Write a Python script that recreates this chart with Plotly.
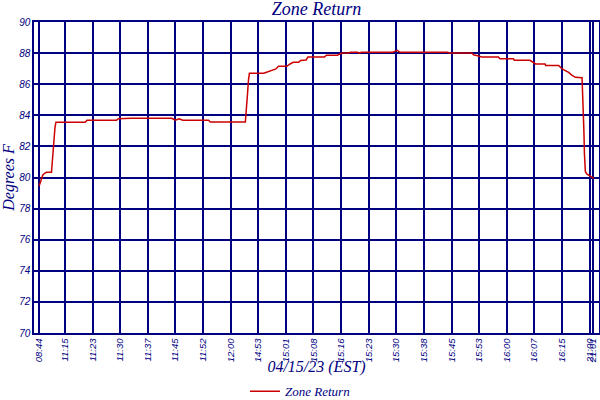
import plotly.graph_objects as go

# sample index (about one reading per minute) and zone return temperature
sample_idx = [
    0, 1, 2, 3, 4, 6.7, 7.3, 8.2, 8.6, 9.1,
    25, 26, 42, 43, 50, 72, 74, 76, 78, 92, 93,
    112, 112.8, 113.2, 113.7, 114.2, 122, 123.5, 126.5, 128.6, 130, 134.5,
    136.3, 138, 141, 142, 145, 146, 155, 156, 162, 163.4, 164.4,
    168, 169, 173, 174, 175, 192, 194.5, 196, 222, 223, 235,
    236.2, 237.7, 240.4, 249.4, 250.3, 257.6, 258.1, 266.6, 268.1, 269.7,
    274.8, 275.1, 282.2, 283.5, 285.3, 287.6, 289.5, 291.3, 294.9,
    295.2, 295.6, 295.9, 296.2, 296.7, 297.6, 299.4, 301.4,
]
zone_return = [
    79.45, 79.8, 80.16, 80.27, 80.33, 80.33, 81.34, 82.62, 83.23, 83.55,
    83.55, 83.68, 83.68, 83.78, 83.81, 83.81, 83.68, 83.78, 83.68, 83.68, 83.57,
    83.57, 84.55, 85.41, 86.27, 86.7, 86.7, 86.77, 86.9, 86.98, 87.15, 87.15,
    87.3, 87.41, 87.41, 87.52, 87.56, 87.75, 87.75, 87.86, 87.86, 87.96, 88.0,
    88.0, 88.05, 88.05, 88.0, 88.05, 88.05, 88.18, 88.05, 88.05, 88.0, 88.0,
    87.88, 87.84, 87.75, 87.75, 87.64, 87.64, 87.54, 87.54, 87.43, 87.3,
    87.3, 87.21, 87.21, 87.04, 86.91, 86.76, 86.57, 86.44, 86.42,
    85.6, 84.3, 83.0, 81.5, 80.37, 80.22, 80.1, 79.95,
]

tick_idx = [0, 14, 29, 44, 59, 74, 89, 104, 119, 134, 149, 164, 179, 194,
            209, 224, 239, 254, 269, 284, 299, 301]
tick_labels = ["08:44", "11:15", "11:23", "11:30", "11:37", "11:45", "11:52",
               "12:00", "14:53", "15:01", "15:08", "15:16", "15:23", "15:30",
               "15:38", "15:45", "15:53", "16:00", "16:07", "16:15", "21:00",
               "21:01"]

navy = "#000080"
serif = "Liberation Serif"
sans = "Liberation Sans"

fig = go.Figure(go.Scatter(
    x=sample_idx,
    y=zone_return,
    mode="lines",
    name="Zone Return",
    line=dict(color="#cc0000", width=1.5),
))

fig.update_layout(
    width=600,
    height=400,
    plot_bgcolor="white",
    paper_bgcolor="white",
    margin=dict(l=34, r=1, t=22, b=67, autoexpand=False),
    title=dict(
        text="Zone Return",
        x=0.5, xref="paper", xanchor="center",
        y=0.978, yref="container", yanchor="middle",
        font=dict(family=serif, size=18, color=navy, style="italic"),
    ),
    showlegend=True,
    legend=dict(
        orientation="h",
        xref="container", x=0.5, xanchor="center",
        yref="container", y=0.022, yanchor="middle",
        font=dict(family=serif, size=13, color=navy, style="italic"),
        itemwidth=30,
    ),
    xaxis=dict(
        range=[-2.8, 304.1],
        automargin=True,
        tickmode="array",
        tickvals=tick_idx,
        ticktext=tick_labels,
        tickangle=-90,
        tickfont=dict(family=sans, size=9.5, color=navy, style="italic"),
        showgrid=True, gridcolor=navy, gridwidth=1.5,
        showline=True, linecolor=navy, linewidth=1.5, mirror=True,
        zeroline=False,
        title=dict(text="04/15/23 (EST)", standoff=4,
                   font=dict(family=serif, size=16, color=navy, style="italic")),
    ),
    yaxis=dict(
        range=[70, 90],
        automargin=True,
        dtick=2,
        tickfont=dict(family=sans, size=10, color=navy, style="italic"),
        showgrid=True, gridcolor=navy, gridwidth=1.5,
        showline=True, linecolor=navy, linewidth=1.5, mirror=True,
        zeroline=False,
        title=dict(text="Degrees F", standoff=4,
                   font=dict(family=serif, size=16, color=navy, style="italic")),
    ),
)

# drop the default page margin so the 600x400 figure fills the window
fig.write_html("out.html", config={"displayModeBar": False},
               post_script="document.body.style.margin = '0';")
